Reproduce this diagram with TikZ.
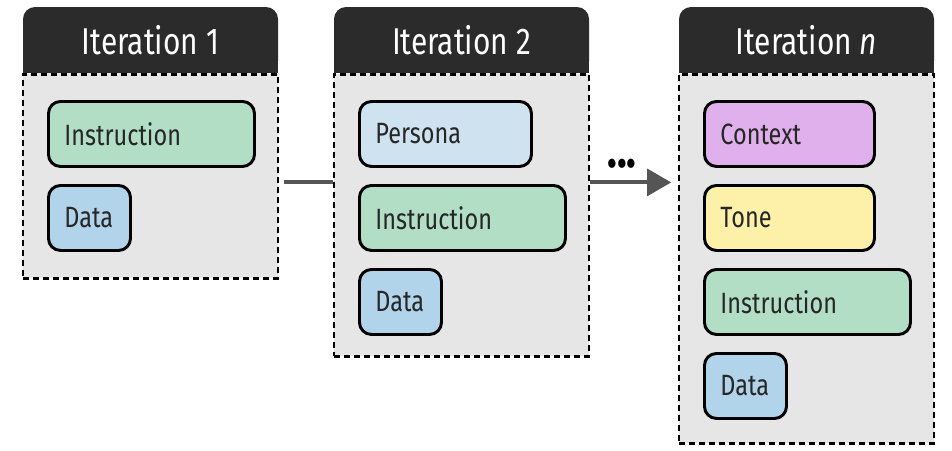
\documentclass[tikz,border=0pt]{standalone}
\usepackage{fontspec}
\setmainfont[FakeStretch=0.8]{Fira Sans}
\usetikzlibrary{arrows.meta,positioning,backgrounds}

\definecolor{headfill}{RGB}{43,43,43}
\definecolor{bodyfill}{RGB}{230,230,230}
\definecolor{instrfill}{RGB}{178,222,198}
\definecolor{datafill}{RGB}{178,212,234}
\definecolor{personafill}{RGB}{207,226,240}
\definecolor{contextfill}{RGB}{224,176,236}
\definecolor{tonefill}{RGB}{253,241,170}
\definecolor{linkgray}{RGB}{85,85,85}

\tikzset{
  head/.style={fill=headfill, rounded corners=9pt, minimum width=191.25pt, minimum height=49.5pt, inner sep=0pt, text=white, font=\fontsize{28}{30}\selectfont},
  panel/.style={draw, fill=bodyfill, line width=1.7pt, dash pattern=on 4.5pt off 3pt, minimum width=191.25pt, anchor=north, inner sep=0pt},
  promptbox/.style={draw, line width=2.2pt, rounded corners=9pt, minimum height=48.75pt, inner xsep=12pt, text width=#1, align=left, anchor=north west, text=black!85, font=\fontsize{22}{26}\selectfont},
  link/.style={draw=linkgray, line width=3pt},
}

\begin{document}
\begin{tikzpicture}[x=0.75pt,y=0.75pt,yscale=-1,xscale=1]
\useasboundingbox (0,0) rectangle (952,450);

% Iteration 1
\node[head] (head1) at (150.5,40) {Iteration 1};
\begin{pgfonlayer}{background}
\fill[headfill] (head1.west) rectangle (head1.south east);
\end{pgfonlayer}
\node[panel, minimum height=153pt] (body1) at (head1.south) {};
\node[promptbox=130.5pt, fill=instrfill] (instr1) at (47,100) {Instruction};
\node[promptbox=37.5pt, fill=datafill] (data1) at (47,184) {Data};

% Iteration 2
\node[head] (head2) at (461.5,40) {Iteration 2};
\begin{pgfonlayer}{background}
\fill[headfill] (head2.west) rectangle (head2.south east);
\end{pgfonlayer}
\node[panel, minimum height=211.5pt] (body2) at (head2.south) {};
\node[promptbox=105pt, fill=personafill] (persona2) at (358,100) {Persona};
\node[promptbox=130.5pt, fill=instrfill] (instr2) at (358,184) {Instruction};
\node[promptbox=37.5pt, fill=datafill] (data2) at (358,268) {Data};

% Iteration n
\node[head] (head3) at (806.5,40) {Iteration \textit{n}};
\begin{pgfonlayer}{background}
\fill[headfill] (head3.west) rectangle (head3.south east);
\end{pgfonlayer}
\node[panel, minimum height=276.75pt] (body3) at (head3.south) {};
\node[promptbox=103.5pt, fill=contextfill] (context3) at (703,100) {Context};
\node[promptbox=103.5pt, fill=tonefill] (tone3) at (703,184) {Tone};
\node[promptbox=130.5pt, fill=instrfill] (instr3) at (703,268) {Instruction};
\node[promptbox=37.5pt, fill=datafill] (data3) at (703,352) {Data};

% Connectors
\coordinate (lvl) at ([yshift=4.5pt]body1.east);
\draw[link, shorten <=4pt] (lvl) -- (lvl -| body2.west);
\draw[link, shorten >=5pt, -{Triangle[length=18pt,width=20pt]}] (lvl -| body2.east) -- (lvl -| body3.west);
\node[font=\fontsize{38}{38}\selectfont\bfseries, inner sep=0pt] (dots) at (622,164) {...};

\end{tikzpicture}
\end{document}
